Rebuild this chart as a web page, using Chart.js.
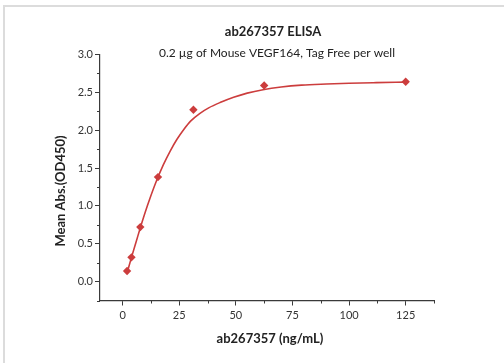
<!DOCTYPE html>
<html>
<head>
<meta charset="utf-8">
<script src="https://cdn.jsdelivr.net/npm/chart.js@4"></script>
<style>
  html, body { margin: 0; padding: 0; background: #fff; }
  #wrap { position: relative; width: 504px; height: 363px; }
  #frame { position: absolute; left: 3px; top: 5px; right: -10px; bottom: -10px;
           border-left: 2px solid #dcdcdc; border-top: 2px solid #dcdcdc; pointer-events: none; }
</style>
</head>
<body>
<div id="wrap">
  <canvas id="chart"></canvas>
  <div id="frame"></div>
</div>
<script>
// measured points (ng/mL vs OD450)
const concentrations = [1.95, 3.9, 7.8, 15.6, 31.25, 62.5, 125];
const meanAbs = [0.14, 0.32, 0.72, 1.38, 2.27, 2.59, 2.64];

// fitted curve
const fitX = [2, 4, 6, 8, 10, 12, 15, 18, 21, 24, 27, 30, 34, 38, 43, 49, 55, 62, 70, 79, 90, 100, 112, 125];
const fitY = [0.12, 0.33, 0.53, 0.73, 0.92, 1.095, 1.335, 1.545, 1.725, 1.88, 2.01, 2.12, 2.22, 2.295, 2.365, 2.435, 2.49, 2.535, 2.57, 2.595, 2.61, 2.62, 2.628, 2.635];

const xTicks = [0, 25, 50, 75, 100, 125];
const yTicks = [0, 0.5, 1.0, 1.5, 2.0, 2.5, 3.0];
const xMinor = [-12.5, 12.5, 37.5, 62.5, 87.5, 112.5, 137.5];
const yMinor = [-0.25, 0.25, 0.75, 1.25, 1.75, 2.25, 2.75];

const RED = '#cc3d3d';
const AXIS = '#3a3a3a';
const FONT = 'Lato, "Open Sans", sans-serif';

const textPlugin = {
  id: 'texts',
  afterDraw(chart) {
    const { ctx, chartArea: a, scales } = chart;
    ctx.save();
    // minor ticks
    ctx.strokeStyle = AXIS;
    ctx.lineWidth = 1;
    xMinor.forEach(v => {
      if (v < scales.x.min || v > scales.x.max) return;
      const px = Math.round(scales.x.getPixelForValue(v)) + 0.5;
      ctx.beginPath(); ctx.moveTo(px, a.bottom); ctx.lineTo(px, a.bottom + 3); ctx.stroke();
    });
    yMinor.forEach(v => {
      if (v < scales.y.min || v > scales.y.max) return;
      const py = Math.round(scales.y.getPixelForValue(v)) + 0.5;
      ctx.beginPath(); ctx.moveTo(a.left, py); ctx.lineTo(a.left - 3, py); ctx.stroke();
    });

    const cx = (a.left + a.right) / 2;
    ctx.fillStyle = '#222';
    ctx.textAlign = 'center';
    ctx.textBaseline = 'middle';
    ctx.font = 'bold 13px ' + FONT;
    ctx.fillText('ab267357 ELISA', cx + 6, 32);
    ctx.font = '12px ' + FONT;
    ctx.fillText('0.2 µg of Mouse VEGF164, Tag Free per well', cx + 10, 53);
    ctx.font = 'bold 13px ' + FONT;
    ctx.fillText('ab267357 (ng/mL)', cx + 3, 339);
    ctx.translate(a.left - 39, 191);
    ctx.rotate(-Math.PI / 2);
    ctx.fillText('Mean Abs.(OD450)', 0, 0);
    ctx.restore();
  }
};

new Chart(document.getElementById('chart'), {
  type: 'scatter',
  data: {
    datasets: [
      {
        label: 'fit',
        data: fitX.map((x, i) => ({ x, y: fitY[i] })),
        showLine: true,
        borderColor: RED,
        borderWidth: 1.6,
        pointRadius: 0,
        cubicInterpolationMode: 'monotone',
        fill: false
      },
      {
        label: 'data',
        data: concentrations.map((x, i) => ({ x, y: meanAbs[i] })),
        pointStyle: 'rectRot',
        pointRadius: 4.2,
        backgroundColor: RED,
        borderColor: RED,
        borderWidth: 0
      }
    ]
  },
  options: {
    responsive: true,
    maintainAspectRatio: false,
    animation: false,
    layout: { padding: { left: 60, right: 70, top: 54.5, bottom: 0 } },
    plugins: { legend: { display: false }, tooltip: { enabled: false } },
    scales: {
      x: {
        type: 'linear',
        min: -10,
        max: 137.5,
        afterBuildTicks: s => { s.ticks = xTicks.map(v => ({ value: v })); },
        afterFit: s => { s.height = 62.5; },
        border: { display: true, color: AXIS, width: 1.2 },
        grid: { drawOnChartArea: false, drawTicks: true, tickLength: 5, color: AXIS },
        ticks: { autoSkip: false, maxRotation: 0, padding: 3, color: '#333', font: { family: FONT, size: 11 } }
      },
      y: {
        type: 'linear',
        min: -0.25,
        max: 3.0,
        afterBuildTicks: s => { s.ticks = yTicks.map(v => ({ value: v })); },
        afterFit: s => { s.width = 40; },
        border: { display: true, color: AXIS, width: 1.2 },
        grid: { drawOnChartArea: false, drawTicks: true, tickLength: 5, color: AXIS },
        ticks: { autoSkip: false, padding: 2, color: '#333', font: { family: FONT, size: 11 },
                 callback: v => v.toFixed(1) }
      }
    }
  },
  plugins: [textPlugin]
});
</script>
</body>
</html>
